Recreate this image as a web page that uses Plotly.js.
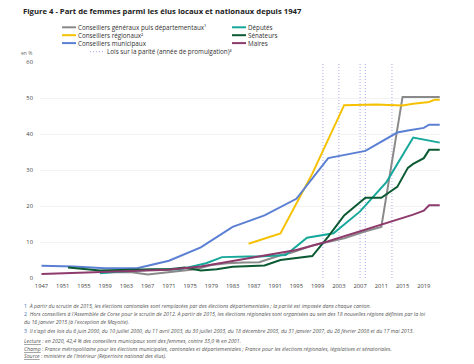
<!DOCTYPE html>
<html>
<head>
<meta charset="utf-8">
<script src="https://cdn.plot.ly/plotly-3.0.1.min.js"></script>
<style>html,body{margin:0;padding:0;background:#fff;}#chart{width:474px;height:364px;}</style>
</head>
<body>
<div id="chart"></div>
<script>
// ---- Data ----
const genYears = [1958, 1961, 1964, 1967, 1970, 1973, 1976, 1979, 1982, 1985, 1988, 1992, 1994, 1998, 2001, 2004, 2008, 2011, 2015, 2022];
const genVals  = [1.6, 1.7, 1.6, 1.0, 1.5, 1.8, 2.4, 3.6, 4.1, 4.3, 4.4, 6.3, 7.0, 9.0, 10.0, 11.0, 13.0, 14.2, 50.3, 50.3];

const regYears = [1986, 1992, 1998, 2004, 2010, 2015, 2017, 2019, 2020, 2021, 2022];
const regVals  = [9.5, 12.4, 29.0, 48.0, 48.2, 47.9, 48.4, 48.7, 48.9, 49.5, 49.5];

const munYears = [1947, 1953, 1959, 1965, 1971, 1977, 1983, 1989, 1995, 2001, 2008, 2011, 2014, 2016, 2019, 2020, 2022];
const munVals  = [3.4, 3.2, 2.7, 2.7, 4.8, 8.5, 14.2, 17.4, 22.0, 33.3, 35.3, 37.8, 40.4, 41.0, 41.7, 42.6, 42.6];

const depYears = [1958, 1962, 1967, 1968, 1973, 1978, 1981, 1986, 1988, 1993, 1997, 2002, 2007, 2012, 2017, 2022];
const depVals  = [1.3, 1.8, 2.2, 2.2, 2.4, 4.1, 5.8, 6.0, 6.0, 6.4, 11.2, 12.4, 18.5, 26.7, 39.0, 37.6];

const senYears = [1952, 1955, 1958, 1962, 1965, 1968, 1971, 1974, 1977, 1980, 1983, 1986, 1989, 1992, 1995, 1998, 2001, 2004, 2008, 2011, 2014, 2015, 2016, 2017, 2018, 2019, 2020, 2022];
const senVals  = [2.9, 2.6, 2.1, 2.2, 2.4, 2.4, 2.4, 2.9, 2.1, 2.4, 3.1, 3.2, 3.5, 5.0, 5.6, 6.1, 11.5, 17.4, 22.3, 22.3, 25.3, 28.0, 30.6, 31.7, 32.5, 33.3, 35.6, 35.6];

const maiYears = [1947, 1953, 1959, 1965, 1971, 1977, 1983, 1989, 1995, 2001, 2008, 2011, 2014, 2017, 2019, 2020, 2022];
const maiVals  = [1.1, 1.4, 1.7, 2.0, 2.3, 3.2, 4.7, 6.2, 7.8, 10.2, 13.4, 14.8, 16.3, 17.6, 18.7, 20.2, 20.2];

const parityLawYears = [2000, 2003, 2007, 2008, 2013];

const seriesNames = [
  "Conseillers généraux puis départementaux¹",
  "Conseillers régionaux²",
  "Conseillers municipaux",
  "Députés",
  "Sénateurs",
  "Maires"
];
const lawName = "Lois sur la parité (année de promulgation)³";
const titleText = "Figure 4 - Part de femmes parmi les élus locaux et nationaux depuis 1947";
const yUnit = "en %";

const footnotes = [
  ["1", "À partir du scrutin de 2015, les élections cantonales sont remplacées par des élections départementales ; la parité est imposée dans chaque canton."],
  ["2", "Hors conseillers à l'Assemblée de Corse pour le scrutin de 2012. À partir de 2015, les élections régionales sont organisées au sein des 18 nouvelles régions définies par la loi"],
  ["", "du 16 janvier 2015 (à l'exception de Mayotte)."],
  ["3", "Il s'agit des lois du 6 juin 2000, du 10 juillet 2000, du 11 avril 2003, du 30 juillet 2003, du 18 décembre 2003, du 31 janvier 2007, du 26 février 2008 et du 17 mai 2013."]
];
const notes = [
  ["Lecture", " : en 2020, 42,4 % des conseillers municipaux sont des femmes, contre 33,0 % en 2001."],
  ["Champ", " : France métropolitaine pour les élections municipales, cantonales et départementales ; France pour les élections régionales, législatives et sénatoriales."],
  ["Source", " : ministère de l'Intérieur (Répertoire national des élus)."]
];

// ---- Styles ----
const colors = ["#8a8a8a", "#f6c100", "#5b80d3", "#16a89b", "#0b5a33", "#8d3a6c"];
const lawColor = "#b3b3f0";
const FONT = "Open Sans, Noto Sans, sans-serif";

const W = 474, H = 364;
const M = {l: 40, r: 34, t: 62, b: 86};
const PW = W - M.l - M.r, PH = H - M.t - M.b;
const px = x => (x - M.l) / PW;          // pixel -> paper x
const py = y => (H - M.b - y) / PH;      // pixel -> paper y

const seriesX = [genYears, regYears, munYears, depYears, senYears, maiYears];
const seriesY = [genVals, regVals, munVals, depVals, senVals, maiVals];

const traces = [];
// parity law lines
const lx = [], ly = [];
parityLawYears.forEach(y => { lx.push(y, y, null); ly.push(0, 60, null); });
traces.push({x: lx, y: ly, mode: "lines", name: "Lois sur la parité", showlegend: false,
  line: {color: lawColor, width: 1.1, dash: "1px,2px"}, hoverinfo: "skip"});
seriesX.forEach((xs, i) => {
  traces.push({x: xs, y: seriesY[i], mode: "lines", name: seriesNames[i], showlegend: false,
    line: {color: colors[i], width: 2}, cliponaxis: false});
});

// ---- Manual legend ----
const shapes = [];
const annotations = [];
const legRowsY = [27.3, 35.2, 43.1];
const legCols = [{x0: 62, x1: 76, tx: 77}, {x0: 232, x1: 246, tx: 247}];
const legFont = {family: FONT, size: 6.3, color: "#333"};
seriesNames.forEach((nm, i) => {
  const col = legCols[i < 3 ? 0 : 1];
  const yy = legRowsY[i % 3];
  shapes.push({type: "line", xref: "paper", yref: "paper", x0: px(col.x0), x1: px(col.x1), y0: py(yy), y1: py(yy),
    line: {color: colors[i], width: 2}});
  annotations.push({xref: "paper", yref: "paper", x: px(col.tx), y: py(yy), xanchor: "left", yanchor: "middle",
    text: nm, showarrow: false, font: legFont, borderpad: 0});
});
shapes.push({type: "line", xref: "paper", yref: "paper", x0: px(90), x1: px(105), y0: py(51.6), y1: py(51.6),
  line: {color: lawColor, width: 1.1, dash: "1px,2px"}});
annotations.push({xref: "paper", yref: "paper", x: px(106), y: py(51.6), xanchor: "left", yanchor: "middle",
  text: lawName, showarrow: false, font: legFont, borderpad: 0});

// y unit
annotations.push({xref: "paper", yref: "paper", x: px(20), y: py(52.5), xanchor: "left", yanchor: "middle",
  text: yUnit, showarrow: false, font: {family: FONT, size: 5, color: "#666"}, borderpad: 0});

// footnotes
const fnY = [306, 314, 322, 330.5];
footnotes.forEach((f, i) => {
  const t = (f[0] ? '<span style="font-style:normal;color:#3a6fb8">' + f[0] + '</span>  ' : '') + f[1];
  annotations.push({xref: "paper", yref: "paper", x: px(23), y: py(fnY[i]), xanchor: "left", yanchor: "middle",
    text: "<i>" + t + "</i>", showarrow: false, font: {family: FONT, size: 5.25, color: "#555"}, borderpad: 0});
});
const noteY = [341, 348.5, 356];
notes.forEach((n, i) => {
  annotations.push({xref: "paper", yref: "paper", x: px(23), y: py(noteY[i]), xanchor: "left", yanchor: "middle",
    text: '<i><span style="text-decoration:underline">' + n[0] + '</span>' + n[1] + '</i>', showarrow: false,
    font: {family: FONT, size: 5.25, color: "#555"}, borderpad: 0});
});

const layout = {
  width: W, height: H,
  margin: M,
  paper_bgcolor: "#fff", plot_bgcolor: "#fff",
  showlegend: false,
  title: {text: "<b>" + titleText + "</b>", x: 23 / W, xref: "container", xanchor: "left",
    y: 1 - 11 / H, yref: "container", yanchor: "middle",
    font: {family: FONT, size: 7.7, color: "#222"}},
  xaxis: {range: [1946.72, 2022.05], tick0: 1947, dtick: 4, showgrid: false, zeroline: false,
    showline: false, ticks: "", tickfont: {family: FONT, size: 5.8, color: "#444"}, ticklabelstandoff: 3},
  yaxis: {range: [0, 60], dtick: 10, showgrid: true, gridcolor: "#eeeeee", gridwidth: 0.7, zeroline: false,
    showline: false, ticks: "", tickfont: {family: FONT, size: 5.8, color: "#444"}, ticklabelstandoff: 6},
  shapes: shapes,
  annotations: annotations,
  hovermode: false
};

Plotly.newPlot("chart", traces, layout, {staticPlot: true, displayModeBar: false});
</script>
</body>
</html>
